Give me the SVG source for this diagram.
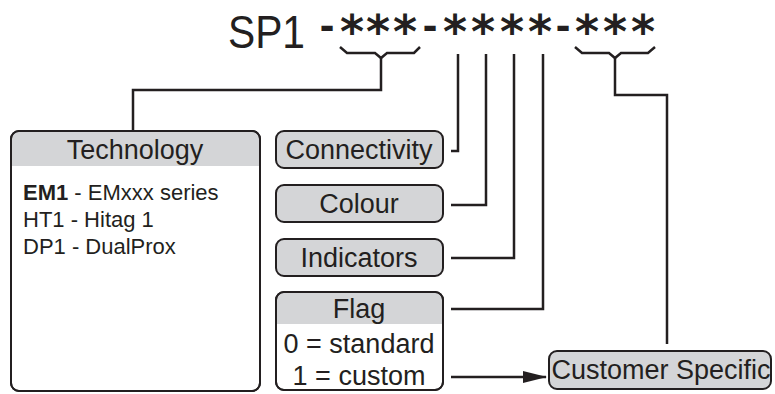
<svg xmlns="http://www.w3.org/2000/svg" width="775" height="394" viewBox="0 0 775 394">
<defs>
<style>
.t{font-family:"Liberation Sans",Arial,sans-serif;fill:#231f20}
.h{font-size:27px;text-anchor:middle}
.b{font-size:22px}
.f{font-size:27px;text-anchor:middle}
.box{fill:#fff;stroke:#231f20;stroke-width:2}
.gbox{fill:#d4d5d7;stroke:#231f20;stroke-width:2}
.hdr{fill:#d4d5d7}
.ln{fill:none;stroke:#231f20;stroke-width:2.5}
.ast{font-family:"DejaVu Sans",sans-serif;font-weight:bold;font-size:46px;fill:#231f20;text-anchor:middle}
.dash{font-family:"Liberation Sans",Arial,sans-serif;font-weight:bold;font-size:44px;fill:#231f20;text-anchor:middle}
</style>
<marker id="arr" markerWidth="24" markerHeight="12" refX="23" refY="6" orient="auto" markerUnits="userSpaceOnUse" viewBox="0 0 24 12">
<path d="M0,0 L24,6 L0,12 z" fill="#231f20"/>
</marker>
</defs>
<rect width="775" height="394" fill="#fff"/>
<g id="title">
<text class="t" x="228" y="48" font-size="46" textLength="77" lengthAdjust="spacingAndGlyphs">SP1</text>
<text class="dash" x="327" y="40">-</text>
<text class="ast" x="352 378 405" y="48">***</text>
<text class="dash" x="430" y="40">-</text>
<text class="ast" x="455 483 512 540" y="48">****</text>
<text class="dash" x="563" y="40">-</text>
<text class="ast" x="587 615 643" y="48">***</text>
</g>
<g id="connectors">
<path class="ln" d="M340,47 L347,53 L375,53 L381,58 L387,53 L414,53 L420,47"/>
<path class="ln" d="M381,58 V90 H133 V131"/>
<path class="ln" d="M575,47 L582,53 L609,53 L615,58 L621,53 L648,53 L655,47"/>
<path class="ln" d="M615,58 V95 H667 V344"/>
<path class="ln" d="M458,54 V151 H451"/>
<path class="ln" d="M486,54 V205 H451"/>
<path class="ln" d="M514,54 V258 H451"/>
<path class="ln" d="M543,54 V309 H451"/>
<path class="ln" d="M451,377 H546" marker-end="url(#arr)"/>
</g>
<g id="technology">
<rect class="box" x="11" y="131" width="249" height="260" rx="8"/>
<path class="hdr" d="M12,166 V139 A7,7 0 0 1 19,132 H252 A7,7 0 0 1 259,139 V166 z"/>
<rect x="11" y="131" width="249" height="260" rx="8" fill="none" stroke="#231f20" stroke-width="2"/>
<text class="t h" x="135" y="159">Technology</text>
<text class="t b" x="23" y="200"><tspan font-weight="bold">EM1</tspan> - EMxxx series</text>
<text class="t b" x="23" y="227">HT1 - Hitag 1</text>
<text class="t b" x="23" y="254">DP1 - DualProx</text>
</g>
<g id="connectivity">
<rect class="gbox" x="276" y="131" width="167" height="37" rx="8"/>
<text class="t h" x="359" y="159">Connectivity</text>
</g>
<g id="colour">
<rect class="gbox" x="276" y="185" width="167" height="37" rx="8"/>
<text class="t h" x="359" y="213">Colour</text>
</g>
<g id="indicators">
<rect class="gbox" x="276" y="239" width="167" height="37" rx="8"/>
<text class="t h" x="359" y="267">Indicators</text>
</g>
<g id="flag">
<rect class="box" x="276" y="292" width="167" height="98" rx="8"/>
<path class="hdr" d="M277,324 V300 A7,7 0 0 1 284,293 H435 A7,7 0 0 1 442,300 V324 z"/>
<rect x="276" y="292" width="167" height="98" rx="8" fill="none" stroke="#231f20" stroke-width="2"/>
<text class="t f" x="359" y="318">Flag</text>
<text class="t f" x="359" y="353">0 = standard</text>
<text class="t f" x="359" y="385">1 = custom</text>
</g>
<g id="customer">
<rect class="gbox" x="549" y="351" width="222" height="38" rx="8"/>
<text class="t h" x="661" y="379" font-size="24.5">Customer Specific</text>
</g>
</svg>
